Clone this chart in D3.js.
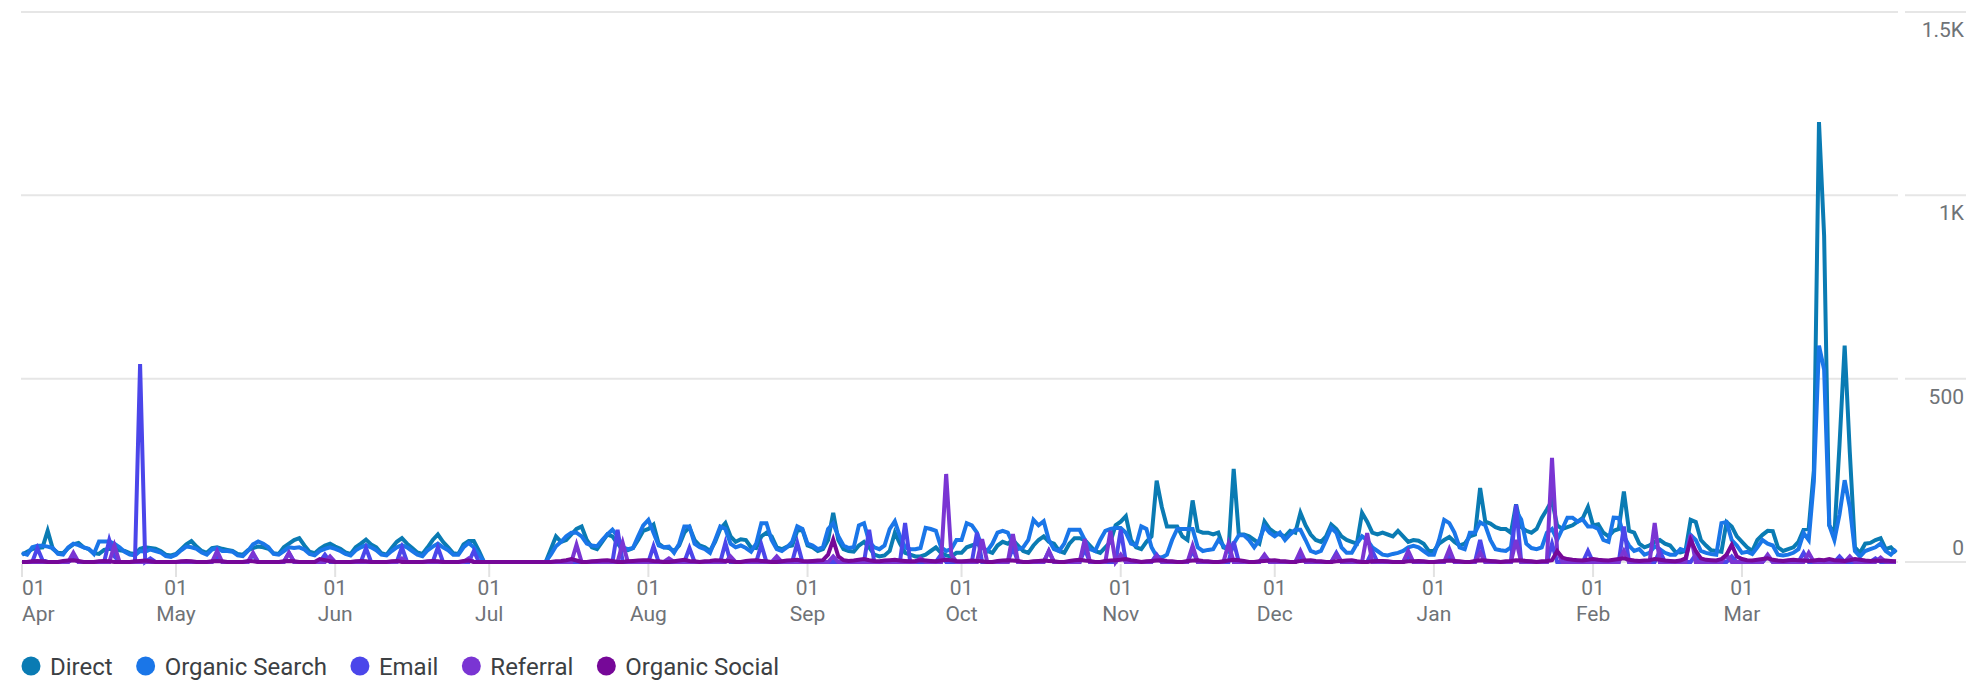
<!DOCTYPE html>
<html>
<head>
<meta charset="utf-8">
<script src="https://cdn.jsdelivr.net/npm/d3@7"></script>
<style>
  html, body { margin: 0; padding: 0; background: #fff; }
  svg { display: block; font-family: Roboto, "Noto Sans", sans-serif; }
</style>
</head>
<body>
<div class="chart"></div>
<script>
// daily sessions by channel, 1 Apr 2023 .. 31 Mar 2024
const startDay = new Date(2023, 3, 1);
const channels = ["Direct", "Organic Search", "Email", "Referral", "Organic Social"];
const channelColors = ["#0a7bb3", "#1a76e8", "#4b46ea", "#7a35d3", "#760898"];
const yTicks = [0, 500, 1000, 1500];
const yTickLabels = ["0", "500", "1K", "1.5K"];

const direct = [
  // Apr
  20, 28, 35, 38, 40, 85, 36, 25, 24, 38, 48, 52, 40, 35, 24, 22, 33, 36, 34, 32, 30, 24, 22, 36, 40, 38, 36, 30, 20, 18,
  // May
  22, 35, 48, 57, 42, 30, 25, 38, 40, 36, 33, 30, 22, 20, 32, 38, 42, 40, 36, 24, 22, 40, 50, 60, 65, 45, 28, 24, 36, 45, 50,
  // Jun
  42, 36, 26, 22, 40, 50, 61, 48, 40, 24, 20, 38, 55, 65, 50, 38, 26, 22, 40, 60, 75, 55, 40, 24, 22, 48, 57, 57, 30, 0,
  // Jul
  0, 0, 0, 0, 0, 0, 0, 0, 0, 0, 0, 0, 35, 70, 55, 60, 75, 90, 97, 60, 40, 35, 55, 75, 70, 50, 35, 32, 38, 60, 85,
  // Aug
  90, 102, 50, 40, 38, 30, 45, 80, 95, 60, 45, 40, 30, 55, 90, 106, 70, 55, 62, 60, 40, 38, 70, 80, 70, 40, 35, 42, 45, 85, 88,
  // Sep
  45, 40, 30, 35, 60, 134, 60, 35, 30, 28, 45, 55, 40, 20, 15, 18, 30, 80, 50, 25, 20, 15, 15, 20, 30, 40, 25, 18, 15, 25,
  // Oct
  25, 40, 45, 50, 40, 30, 25, 45, 55, 50, 60, 45, 30, 25, 45, 60, 70, 55, 50, 30, 25, 50, 65, 65, 60, 45, 30, 25, 40, 55, 100,
  // Nov
  110, 125, 60, 40, 35, 55, 70, 222, 150, 97, 97, 97, 70, 60, 168, 85, 80, 80, 75, 80, 40, 35, 254, 75, 75, 70, 60, 50, 110, 90,
  // Dec
  80, 75, 70, 85, 80, 134, 100, 75, 60, 55, 70, 102, 90, 70, 60, 55, 50, 134, 110, 80, 75, 80, 75, 70, 85, 70, 55, 60, 58, 50, 30,
  // Jan
  30, 50, 60, 68, 55, 45, 50, 70, 75, 202, 110, 105, 95, 90, 90, 80, 157, 95, 85, 80, 90, 120, 143, 168, 100, 90, 95, 100, 110, 120, 150,
  // Feb
  100, 103, 80, 70, 85, 90, 192, 85, 80, 50, 40, 45, 55, 60, 50, 45, 28, 26, 30, 115, 109, 60, 45, 32, 30, 28, 109, 97, 70,
  // Mar
  55, 40, 30, 60, 74, 85, 84, 40, 30, 35, 40, 55, 88, 91, 250, 1200, 890, 100, 75, 320, 590, 300, 40, 25, 50, 52, 60, 65, 35, 40, 25
];

const organicSearch = [
  // Apr
  24, 20, 40, 44, 44, 42, 38, 22, 20, 40, 50, 46, 40, 36, 22, 56, 56, 56, 50, 40, 28, 20, 18, 30, 28, 34, 30, 26, 16, 14,
  // May
  20, 32, 42, 40, 36, 26, 20, 34, 38, 30, 30, 28, 18, 16, 30, 48, 56, 50, 40, 22, 20, 30, 40, 38, 40, 34, 22, 18, 30, 36, 40,
  // Jun
  36, 30, 22, 18, 32, 40, 46, 40, 32, 20, 18, 30, 40, 46, 40, 30, 20, 16, 32, 42, 50, 40, 32, 20, 20, 40, 52, 40, 20, 0,
  // Jul
  0, 0, 0, 0, 0, 0, 0, 0, 0, 0, 0, 0, 20, 43, 55, 70, 80, 80, 70, 50, 45, 43, 60, 75, 88, 70, 40, 35, 38, 70, 100,
  // Aug
  115, 80, 45, 40, 42, 25, 50, 97, 97, 50, 40, 35, 25, 60, 97, 90, 50, 40, 45, 38, 28, 50, 106, 106, 60, 35, 30, 40, 55, 97, 90,
  // Sep
  50, 45, 35, 40, 90, 105, 70, 45, 38, 40, 100, 106, 55, 40, 35, 45, 90, 111, 70, 40, 35, 35, 38, 93, 90, 85, 40, 30, 35, 60,
  // Oct
  60, 106, 100, 80, 40, 30, 50, 80, 85, 80, 50, 35, 40, 60, 115, 100, 111, 60, 35, 30, 50, 88, 88, 88, 60, 35, 30, 60, 85, 90, 93,
  // Nov
  93, 80, 50, 45, 97, 90, 40, 15, 12, 20, 60, 90, 90, 90, 90, 40, 30, 33, 35, 60, 45, 30, 50, 73, 73, 60, 40, 60, 97, 80,
  // Dec
  70, 80, 60, 75, 88, 88, 60, 30, 25, 30, 60, 93, 80, 40, 25, 25, 50, 70, 60, 40, 30, 20, 18, 22, 25, 30, 40, 44, 40, 30, 20,
  // Jan
  20, 60, 115, 106, 80, 40, 35, 80, 80, 108, 100, 60, 35, 32, 30, 40, 139, 116, 50, 38, 35, 40, 80, 90, 60, 90, 121, 121, 110, 116, 97,
  // Feb
  97, 90, 60, 55, 121, 120, 70, 45, 30, 35, 20, 25, 43, 35, 25, 20, 20, 35, 30, 74, 60, 30, 25, 22, 20, 106, 109, 60, 45,
  // Mar
  25, 28, 22, 40, 60, 50, 45, 20, 18, 20, 25, 35, 79, 60, 220, 590, 525, 100, 60, 130, 223, 150, 30, 15, 30, 35, 40, 50, 30, 20, 35
];

const email = [
  // Apr
  0, 0, 0, 38, 5, 0, 0, 0, 0, 0, 10, 0, 0, 0, 0, 0, 0, 60, 15, 0, 0, 0, 0, 540, 0, 10, 0, 0, 0, 0,
  // May
  0, 0, 0, 0, 0, 0, 0, 0, 15, 0, 0, 0, 0, 0, 0, 20, 0, 0, 0, 0, 0, 0, 25, 0, 0, 0, 0, 0, 0, 20, 0,
  // Jun
  0, 0, 0, 0, 0, 0, 38, 0, 0, 0, 0, 0, 0, 40, 0, 0, 0, 0, 0, 0, 40, 0, 0, 0, 0, 0, 0, 30, 0, 0,
  // Jul
  0, 0, 0, 0, 0, 0, 0, 0, 0, 0, 0, 0, 0, 0, 0, 0, 0, 0, 0, 0, 0, 0, 0, 0, 0, 88, 0, 0, 0, 0, 0,
  // Aug
  0, 43, 0, 0, 0, 0, 0, 0, 38, 0, 0, 0, 0, 0, 0, 52, 0, 0, 0, 0, 0, 0, 47, 0, 0, 0, 0, 0, 0, 52, 0,
  // Sep
  0, 0, 0, 0, 0, 0, 0, 0, 0, 0, 0, 0, 88, 0, 0, 0, 0, 0, 0, 106, 0, 0, 0, 0, 0, 0, 20, 0, 0, 0,
  // Oct
  0, 0, 0, 80, 0, 0, 0, 0, 0, 0, 40, 0, 0, 0, 0, 0, 0, 30, 0, 0, 0, 0, 0, 0, 35, 0, 0, 0, 0, 0, 0,
  // Nov
  88, 0, 0, 0, 0, 0, 0, 20, 0, 0, 0, 0, 0, 0, 30, 0, 0, 0, 0, 0, 0, 0, 55, 0, 0, 0, 0, 0, 15, 0,
  // Dec
  0, 0, 0, 0, 0, 20, 0, 0, 0, 0, 0, 0, 25, 0, 0, 0, 0, 0, 0, 30, 0, 0, 0, 0, 0, 0, 15, 0, 0, 0, 0,
  // Jan
  0, 0, 0, 20, 0, 0, 0, 0, 0, 60, 0, 0, 0, 0, 0, 0, 156, 0, 0, 0, 0, 0, 0, 50, 0, 0, 0, 0, 0, 0, 30,
  // Feb
  0, 0, 0, 0, 0, 0, 97, 0, 0, 0, 0, 0, 0, 30, 0, 0, 0, 0, 0, 0, 20, 0, 0, 0, 0, 0, 0, 15, 0,
  // Mar
  0, 0, 0, 0, 0, 15, 0, 0, 0, 0, 0, 0, 25, 0, 0, 0, 0, 0, 0, 15, 0, 0, 0, 0, 0, 0, 10, 0, 0, 0, 0
];

const referral = [
  // Apr
  0, 0, 0, 0, 0, 0, 0, 0, 0, 0, 25, 0, 0, 0, 0, 0, 0, 0, 45, 0, 0, 0, 0, 0, 0, 0, 0, 0, 0, 0,
  // May
  0, 0, 0, 0, 0, 0, 0, 0, 30, 0, 0, 0, 0, 0, 0, 25, 0, 0, 0, 0, 0, 0, 25, 0, 0, 0, 0, 0, 0, 0, 15,
  // Jun
  0, 0, 0, 0, 0, 0, 0, 0, 0, 0, 0, 0, 0, 10, 0, 0, 0, 0, 0, 0, 0, 0, 0, 0, 0, 0, 10, 0, 0, 0,
  // Jul
  0, 0, 0, 0, 0, 0, 0, 0, 0, 0, 0, 0, 0, 0, 0, 0, 0, 47, 0, 0, 0, 0, 0, 0, 0, 0, 52, 0, 0, 0, 0,
  // Aug
  0, 0, 0, 0, 10, 0, 0, 0, 0, 0, 0, 0, 0, 0, 0, 0, 15, 0, 0, 0, 0, 0, 0, 0, 0, 15, 0, 0, 0, 0, 0,
  // Sep
  0, 0, 0, 0, 0, 15, 0, 0, 0, 0, 0, 0, 0, 0, 0, 0, 0, 0, 0, 0, 0, 0, 10, 0, 0, 0, 0, 240, 20, 0,
  // Oct
  0, 0, 0, 0, 62, 0, 0, 0, 0, 0, 76, 0, 0, 0, 0, 0, 0, 30, 0, 0, 0, 0, 0, 0, 62, 0, 0, 0, 0, 85, 0,
  // Nov
  20, 0, 0, 0, 0, 0, 0, 15, 0, 0, 0, 0, 0, 0, 44, 0, 0, 0, 0, 0, 0, 50, 0, 0, 0, 0, 0, 0, 20, 0,
  // Dec
  0, 0, 0, 0, 0, 30, 0, 0, 0, 0, 0, 0, 20, 0, 0, 0, 0, 0, 79, 0, 0, 0, 0, 0, 0, 0, 30, 0, 0, 0, 0,
  // Jan
  0, 0, 0, 35, 0, 0, 0, 0, 0, 25, 0, 0, 0, 0, 0, 0, 60, 0, 0, 0, 0, 0, 0, 284, 30, 0, 0, 0, 0, 0, 0,
  // Feb
  0, 0, 0, 0, 0, 0, 30, 0, 0, 0, 0, 0, 106, 0, 0, 0, 0, 0, 0, 75, 0, 0, 0, 0, 0, 0, 20, 0, 0,
  // Mar
  0, 0, 0, 0, 0, 20, 0, 0, 0, 0, 0, 0, 0, 25, 0, 0, 0, 0, 0, 0, 0, 15, 0, 0, 0, 0, 0, 12, 0, 0, 0
];

const organicSocial = [
  // Apr
  0, 0, 2, 3, 2, 0, 0, 0, 3, 4, 5, 3, 0, 0, 0, 2, 3, 2, 0, 0, 0, 0, 2, 3, 4, 2, 0, 0, 0, 0,
  // May
  0, 2, 3, 2, 0, 0, 0, 2, 3, 2, 0, 0, 0, 0, 3, 2, 0, 0, 0, 0, 0, 2, 3, 2, 0, 0, 0, 0, 8, 5, 2,
  // Jun
  0, 0, 0, 0, 2, 3, 2, 0, 0, 0, 0, 2, 3, 0, 0, 0, 0, 0, 2, 3, 2, 0, 0, 0, 0, 3, 4, 0, 0, 0,
  // Jul
  0, 0, 0, 0, 0, 0, 0, 0, 0, 0, 0, 0, 0, 2, 3, 5, 8, 4, 0, 0, 2, 3, 4, 5, 3, 0, 0, 2, 3, 4, 5,
  // Aug
  5, 3, 2, 0, 0, 2, 4, 6, 3, 2, 0, 2, 3, 5, 4, 3, 2, 0, 0, 3, 4, 5, 3, 2, 0, 0, 2, 4, 5, 6, 3,
  // Sep
  2, 3, 4, 5, 20, 61, 15, 5, 3, 4, 6, 8, 5, 3, 2, 4, 5, 6, 4, 3, 2, 3, 5, 4, 3, 2, 4, 6, 5, 3,
  // Oct
  2, 3, 4, 3, 2, 0, 0, 3, 4, 5, 4, 3, 0, 0, 2, 3, 4, 3, 2, 0, 0, 3, 5, 6, 4, 3, 0, 0, 3, 4, 5,
  // Nov
  6, 8, 5, 3, 0, 2, 3, 4, 5, 3, 2, 0, 0, 3, 4, 5, 3, 2, 0, 0, 2, 4, 6, 5, 3, 0, 0, 2, 3, 4,
  // Dec
  5, 3, 2, 0, 0, 3, 4, 5, 3, 2, 0, 0, 2, 3, 4, 5, 2, 0, 0, 2, 3, 3, 2, 0, 0, 0, 2, 2, 3, 2, 0,
  // Jan
  0, 2, 3, 4, 3, 2, 0, 0, 3, 5, 4, 3, 2, 0, 2, 3, 5, 4, 3, 2, 0, 2, 3, 5, 30, 12, 8, 6, 5, 4, 6,
  // Feb
  8, 6, 5, 4, 6, 8, 10, 6, 4, 3, 4, 5, 8, 6, 4, 3, 2, 4, 10, 60, 30, 10, 6, 5, 4, 8, 20, 47, 15,
  // Mar
  8, 5, 4, 6, 8, 10, 6, 4, 3, 5, 6, 5, 4, 3, 4, 6, 5, 8, 5, 4, 3, 5, 8, 6, 4, 3, 4, 3, 4, 3, 2
];

const seriesValues = [direct, organicSearch, email, referral, organicSocial];

const width = 1966;
const height = 684;
const plotLeft = 22;
const plotRight = 1896;
const axisTop = 12;
const axisBottom = 562;

const dates = direct.map((d, i) => d3.timeDay.offset(startDay, i));

const x = d3.scaleTime()
  .domain([dates[0], dates[dates.length - 1]])
  .range([plotLeft, plotRight]);

const y = d3.scaleLinear()
  .domain([0, 1500])
  .range([axisBottom, axisTop]);

const svg = d3.select(".chart").append("svg")
  .attr("width", width)
  .attr("height", height)
  .attr("viewBox", [0, 0, width, height]);

// grid lines, main part + short part under the labels
const grid = svg.append("g")
  .attr("stroke", "#e6e6e6")
  .attr("stroke-width", 2);

grid.selectAll(".g-main")
  .data(yTicks)
  .enter().append("line")
  .attr("x1", plotLeft - 1)
  .attr("x2", plotRight + 2)
  .attr("y1", d => y(d))
  .attr("y2", d => y(d));

grid.selectAll(".g-side")
  .data(yTicks)
  .enter().append("line")
  .attr("x1", 1905)
  .attr("x2", width)
  .attr("y1", d => y(d))
  .attr("y2", d => y(d));

// y labels at the right
svg.append("g")
  .attr("font-size", 21)
  .attr("fill", "#6f7377")
  .attr("text-anchor", "end")
  .selectAll("text")
  .data(yTicks)
  .enter().append("text")
  .attr("x", 1964)
  .attr("y", d => d === 0 ? y(d) - 7 : y(d) + 25)
  .text((d, i) => yTickLabels[i]);

// month ticks
const months = d3.timeMonth.range(startDay, d3.timeDay.offset(dates[dates.length - 1], 1));
const xAxis = svg.append("g");

xAxis.selectAll("line")
  .data(months)
  .enter().append("line")
  .attr("x1", d => x(d))
  .attr("x2", d => x(d))
  .attr("y1", axisBottom + 2)
  .attr("y2", axisBottom + 15)
  .attr("stroke", "#e2e2e2")
  .attr("stroke-width", 2);

const monthLabel = xAxis.selectAll("text")
  .data(months)
  .enter().append("text")
  .attr("font-size", 21)
  .attr("fill", "#6f7377")
  .attr("text-anchor", (d, i) => i === 0 ? "start" : "middle")
  .attr("transform", d => `translate(${x(d)},0)`);

monthLabel.append("tspan")
  .attr("x", 0)
  .attr("y", 595)
  .text(d3.timeFormat("%d"));

monthLabel.append("tspan")
  .attr("x", 0)
  .attr("y", 621)
  .text(d3.timeFormat("%b"));

// lines
const line = d3.line()
  .x((d, i) => x(dates[i]))
  .y(d => y(d));

svg.append("g")
  .attr("fill", "none")
  .attr("stroke-width", 4)
  .selectAll("path")
  .data(seriesValues)
  .enter().append("path")
  .attr("stroke", (d, i) => channelColors[i])
  .attr("d", line);

// legend
const legend = svg.append("g").attr("transform", "translate(0,666)");
let cx = 31;
channels.forEach((name, i) => {
  legend.append("circle")
    .attr("cx", cx)
    .attr("cy", 0)
    .attr("r", 9.5)
    .attr("fill", channelColors[i]);
  const t = legend.append("text")
    .attr("x", cx + 19)
    .attr("y", 8.5)
    .attr("font-size", 24)
    .attr("fill", "#3c4043")
    .text(name);
  cx = cx + 19 + t.node().getComputedTextLength() + 33;
});
</script>
</body>
</html>
